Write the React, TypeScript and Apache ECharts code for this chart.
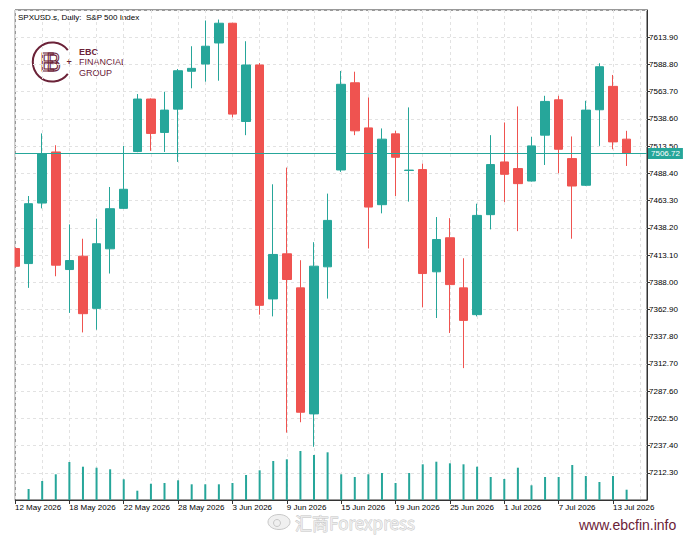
import React, { useEffect, useRef } from 'react';
import * as echarts from 'echarts';

const dates = [
  '12 May 2026', '13 May 2026', '14 May 2026', '15 May 2026',
  '18 May 2026', '19 May 2026', '20 May 2026', '21 May 2026',
  '22 May 2026', '25 May 2026', '26 May 2026', '27 May 2026',
  '28 May 2026', '29 May 2026', '1 Jun 2026', '2 Jun 2026',
  '3 Jun 2026', '4 Jun 2026', '5 Jun 2026', '8 Jun 2026',
  '9 Jun 2026', '10 Jun 2026', '11 Jun 2026', '12 Jun 2026',
  '15 Jun 2026', '16 Jun 2026', '17 Jun 2026', '18 Jun 2026',
  '19 Jun 2026', '22 Jun 2026', '23 Jun 2026', '24 Jun 2026',
  '25 Jun 2026', '26 Jun 2026', '29 Jun 2026', '30 Jun 2026',
  '1 Jul 2026', '2 Jul 2026', '3 Jul 2026', '6 Jul 2026',
  '7 Jul 2026', '8 Jul 2026', '9 Jul 2026', '10 Jul 2026',
  '13 Jul 2026', '14 Jul 2026',
];

const opens = [
  7419.1, 7405.2, 7461.0, 7508.1, 7399.7, 7412.0, 7363.9, 7418.8, 7456.1, 7508.5,
  7556.9, 7526.1, 7547.6, 7582.5, 7589.2, 7608.6, 7626.8, 7536.2, 7588.3, 7372.6,
  7414.2, 7382.8, 7266.6, 7402.2, 7491.5, 7571.9, 7530.3, 7459.5, 7524.8, 7491.0,
  7491.9, 7397.6, 7429.0, 7382.8, 7358.1, 7450.3, 7498.9, 7492.8, 7481.3, 7523.6,
  7556.2, 7502.0, 7477.4, 7547.0, 7568.6, 7519.9,
];
const closes = [
  7402.7, 7460.4, 7506.7, 7403.7, 7408.0, 7359.0, 7423.5, 7455.8, 7473.7, 7556.9,
  7525.2, 7546.7, 7583.0, 7585.2, 7605.6, 7626.8, 7543.0, 7588.3, 7366.7, 7413.6,
  7390.5, 7268.1, 7402.8, 7445.0, 7570.5, 7527.6, 7457.3, 7519.9, 7503.2, 7491.4,
  7396.0, 7427.4, 7385.8, 7352.8, 7449.6, 7496.5, 7487.5, 7478.9, 7513.7, 7554.7,
  7510.6, 7476.7, 7546.7, 7586.7, 7517.4, 7506.72,
];
const lows = [
  7401.6, 7382.8, 7456.1, 7393.5, 7359.7, 7341.7, 7344.2, 7396.0, 7455.6, 7507.9,
  7509.1, 7508.1, 7498.9, 7566.8, 7572.9, 7573.8, 7539.9, 7523.6, 7358.1, 7356.5,
  7249.3, 7258.9, 7236.3, 7372.9, 7489.7, 7523.6, 7419.1, 7451.5, 7467.5, 7462.3,
  7364.8, 7355.0, 7341.2, 7308.8, 7356.5, 7436.7, 7461.9, 7435.1, 7480.8, 7496.1,
  7488.5, 7428.1, 7476.7, 7513.7, 7510.6, 7495.2,
];
const highs = [
  7421.0, 7467.5, 7525.2, 7514.3, 7441.3, 7428.1, 7446.6, 7475.8, 7513.7, 7561.5,
  7557.5, 7563.6, 7584.6, 7605.6, 7629.3, 7630.2, 7627.1, 7610.2, 7590.1, 7478.3,
  7493.7, 7408.3, 7424.9, 7469.7, 7582.8, 7582.1, 7558.4, 7529.8, 7527.6, 7549.2,
  7497.4, 7448.1, 7447.1, 7410.1, 7460.4, 7523.6, 7535.3, 7550.1, 7522.0, 7559.9,
  7559.9, 7522.4, 7555.3, 7589.9, 7579.1, 7527.6,
];
const volumes = [
  null, 11000, 19000, 25700, 38000, 33300, 32300, 30700, 20700, 9300,
  16300, 17000, 19700, 15700, 15700, 15700, 17000, 25000, 29700, 39000,
  40700, 49000, 45000, 47700, 25700, 23000, 25700, 27000, 17000, 27000,
  35700, 38300, 36700, 35700, 33300, 23000, 21000, 32300, 14700, 23000,
  23000, 35000, 24000, 18000, 24000, 10300,
];

const priceMin = 7187.2;
const priceStep = 25.1;
const priceMax = 7639.0;
const volumeMax = 490000;
const lastPrice = 7506.72;
const titleText = 'SPXUSD.s, Daily:  S&P 500 Index';
const brandLines = ['EBC', 'FINANCIAL', 'GROUP'];
const siteText = 'www.ebcfin.info';
const watermarkText = '汇商Forexpress';

const UP = '#26a69a';
const DOWN = '#ef5350';
const MAROON = '#6b2238';
const FONT = 'Liberation Sans, Arial, sans-serif';

export default function App() {
  const ref = useRef<HTMLDivElement>(null);
  useEffect(() => {
    const chart = echarts.init(ref.current as HTMLDivElement, null, { renderer: 'svg' });
    const candleData = dates.map((_, i) => [i, opens[i], closes[i], lows[i], highs[i]]);
    const volData = dates.map((_, i) => [i, volumes[i]]);
    const gridLine = { show: true, lineStyle: { color: '#e2e2e2', type: [3, 3], width: 1 } };
    chart.setOption({
      animation: false,
      backgroundColor: '#ffffff',
      grid: {
        left: 15, right: 53, top: 10, bottom: 38,
        show: true, borderColor: '#333', borderWidth: 1, backgroundColor: 'transparent',
      },
      xAxis: [
        {
          type: 'value', min: 0, max: 46.5, interval: 4, position: 'bottom',
          axisLine: { show: true, onZero: false, lineStyle: { color: '#333', width: 1 } },
          axisTick: { show: true, length: 4, lineStyle: { color: '#333' } },
          axisLabel: {
            show: true, showMaxLabel: false, showMinLabel: true, align: 'left', margin: 3,
            fontSize: 8, color: '#000', fontFamily: FONT,
            formatter: (v: number) => (dates[v] !== undefined ? dates[v] : ''),
          },
          splitLine: { show: false },
        },
        {
          type: 'value', min: 0, max: 46.5, interval: 2, position: 'top',
          axisLine: { show: false }, axisTick: { show: false }, axisLabel: { show: false },
          splitLine: gridLine,
        },
      ],
      yAxis: [
        {
          type: 'value', position: 'right', min: priceMin, max: priceMax, interval: priceStep,
          axisLine: { show: true, onZero: false, lineStyle: { color: '#333', width: 1 } },
          axisTick: { show: true, length: 3, lineStyle: { color: '#333' } },
          axisLabel: {
            showMinLabel: false, showMaxLabel: false, margin: 2, fontSize: 8,
            color: '#000', fontFamily: FONT,
            formatter: (v: number) => v.toFixed(2),
          },
          splitLine: gridLine,
        },
        { type: 'value', min: 0, max: volumeMax, show: false },
      ],
      series: [
        {
          type: 'bar', xAxisIndex: 0, yAxisIndex: 1, data: volData, barWidth: 2,
          itemStyle: { color: UP }, silent: true,
        },
        {
          type: 'candlestick', xAxisIndex: 0, yAxisIndex: 0, data: candleData, barWidth: 9,
          clip: true,
          itemStyle: { color: UP, color0: DOWN, borderColor: UP, borderColor0: DOWN, borderWidth: 1 },
          markLine: {
            silent: true, symbol: ['none', 'none'],
            lineStyle: { color: UP, type: 'solid', width: 1 },
            label: {
              show: true, position: 'end', distance: 1, formatter: lastPrice.toFixed(2),
              backgroundColor: UP, color: '#fff', fontSize: 8, fontFamily: FONT,
              padding: [2, 3, 1, 3],
            },
            data: [{ yAxis: lastPrice }],
          },
        },
      ],
      graphic: [
        {
          type: 'rect', z: 100, silent: true,
          shape: { x: 0, y: 0, width: 14.5, height: 538 },
          style: { fill: '#ffffff' },
        },
        {
          type: 'text', x: 18, y: 17,
          style: { text: titleText, fontSize: 8, fontFamily: FONT, fill: '#000', verticalAlign: 'middle', align: 'left' },
        },
        {
          type: 'arc',
          shape: { cx: 52.3, cy: 62, r: 19.5, startAngle: 0.65, endAngle: Math.PI * 2 - 0.65 },
          style: { stroke: MAROON, lineWidth: 2, fill: 'none' },
        },
        {
          type: 'text', x: 40.5, y: 62.5, scaleX: 0.85,
          style: { text: 'E', fontSize: 25, fontFamily: FONT, fill: 'none', stroke: MAROON, lineWidth: 1.2, verticalAlign: 'middle', align: 'left' },
        },
        {
          type: 'text', x: 46.5, y: 62.5, scaleX: 0.85,
          style: { text: 'B', fontSize: 25, fontFamily: FONT, fill: 'none', stroke: MAROON, lineWidth: 1.2, verticalAlign: 'middle', align: 'left' },
        },
        {
          type: 'text', x: 69, y: 62,
          style: { text: '+', fontSize: 9, fontFamily: FONT, fill: MAROON, fontWeight: 'bold', verticalAlign: 'middle', align: 'center' },
        },
        ...brandLines.map((t, i) => ({
          type: 'text', x: 79, y: 51.5 + i * 10.5,
          style: {
            text: t, fontSize: 9, fontFamily: FONT, fill: MAROON,
            fontWeight: i === 0 ? 'bold' : 'normal', verticalAlign: 'middle', align: 'left',
          },
        })),
        {
          type: 'ellipse', shape: { cx: 279, cy: 522, rx: 11, ry: 7.5 },
          style: { fill: '#f0f0f0', stroke: '#c8c8c8', lineWidth: 1 },
        },
        {
          type: 'circle', shape: { cx: 277, cy: 523, r: 3.5 },
          style: { fill: 'none', stroke: '#c8c8c8', lineWidth: 1 },
        },
        {
          type: 'text', x: 295, y: 522,
          style: {
            text: watermarkText, fontSize: 17, fontFamily: 'Noto Sans CJK SC, sans-serif',
            fill: '#ececec', stroke: '#c4c4c4', lineWidth: 0.8, verticalAlign: 'middle', align: 'left',
          },
        },
        {
          type: 'text', x: 579, y: 525,
          style: { text: siteText, fontSize: 14, fontFamily: FONT, fill: MAROON, verticalAlign: 'middle', align: 'left' },
        },
      ],
    });
    return () => chart.dispose();
  }, []);
  return <div ref={ref} style={{ position: 'absolute', left: 0, top: 0, width: 700, height: 538 }} />;
}
